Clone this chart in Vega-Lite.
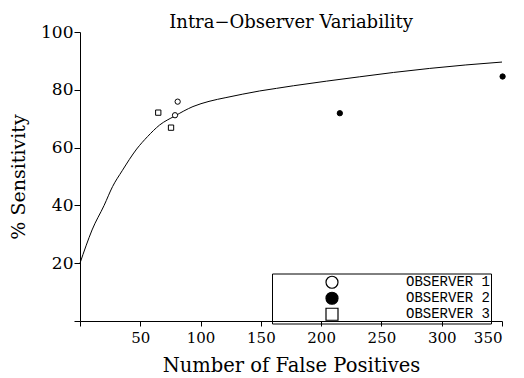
{
  "$schema": "https://vega.github.io/schema/vega-lite/v6.json",
  "width": 422,
  "height": 289,
  "autosize": "none",
  "padding": {"left": 80, "top": 32, "right": 22, "bottom": 57},
  "background": "white",
  "title": {
    "text": "Intra−Observer Variability",
    "font": "DejaVu Serif",
    "fontSize": 18,
    "fontWeight": "normal",
    "color": "black",
    "frame": "group",
    "baseline": "alphabetic",
    "offset": -23
  },
  "config": {
    "view": {"stroke": null},
    "axis": {
      "domainColor": "black",
      "tickColor": "black",
      "labelColor": "black",
      "titleColor": "black",
      "labelFont": "DejaVu Serif",
      "titleFont": "DejaVu Serif",
      "titleFontWeight": "normal",
      "grid": false,
      "tickSize": 5
    },
    "legend": {
      "symbolStrokeColor": "black",
      "symbolStrokeWidth": 1.2
    }
  },
  "layer": [
    {
      "data": {
        "values": [
          {"fp": 0, "sens": 20},
          {"fp": 5, "sens": 26},
          {"fp": 10, "sens": 31.5},
          {"fp": 20, "sens": 40},
          {"fp": 27, "sens": 46.5},
          {"fp": 35, "sens": 52},
          {"fp": 47, "sens": 59.5},
          {"fp": 56, "sens": 63.8},
          {"fp": 66, "sens": 67.8},
          {"fp": 78.5, "sens": 70.9},
          {"fp": 93.7, "sens": 74.2},
          {"fp": 107, "sens": 76},
          {"fp": 121, "sens": 77.3},
          {"fp": 135, "sens": 78.5},
          {"fp": 149, "sens": 79.6},
          {"fp": 163, "sens": 80.5},
          {"fp": 177, "sens": 81.4},
          {"fp": 204.5, "sens": 83},
          {"fp": 232, "sens": 84.5},
          {"fp": 260, "sens": 86},
          {"fp": 290, "sens": 87.4},
          {"fp": 320, "sens": 88.6},
          {"fp": 350, "sens": 89.6}
        ]
      },
      "mark": {"type": "line", "color": "black", "strokeWidth": 1, "interpolate": "monotone"},
      "encoding": {
        "x": {
          "field": "fp", "type": "quantitative",
          "scale": {"domain": [0, 350], "nice": false, "zero": false},
          "axis": {
            "values": [0, 50, 100, 150, 200, 250, 300, 350],
            "labelExpr": "datum.value == 0 ? '' : datum.label",
            "labelFontSize": 15,
            "labelPadding": 4,
            "title": "Number of False Positives",
            "titleFontSize": 19.5,
            "titlePadding": 11
          }
        },
        "y": {
          "field": "sens", "type": "quantitative",
          "scale": {"domain": [0, 100], "nice": false},
          "axis": {
            "values": [0, 20, 40, 60, 80, 100],
            "labelExpr": "datum.value == 0 ? '' : datum.label",
            "labelFontSize": 17,
            "labelPadding": 1,
            "tickSize": 6,
            "title": "% Sensitivity",
            "titleFontSize": 19,
            "titlePadding": 12
          }
        }
      }
    },
    {
      "data": {
        "values": [
          {"observer": "OBSERVER 1", "fp": 81, "sens": 75.9},
          {"observer": "OBSERVER 1", "fp": 78.8, "sens": 71.2},
          {"observer": "OBSERVER 2", "fp": 215.5, "sens": 71.9},
          {"observer": "OBSERVER 2", "fp": 350.5, "sens": 84.6},
          {"observer": "OBSERVER 3", "fp": 64.9, "sens": 72.1},
          {"observer": "OBSERVER 3", "fp": 75.5, "sens": 66.9}
        ]
      },
      "mark": {"type": "point", "filled": true, "strokeWidth": 1, "opacity": 1, "size": 28},
      "encoding": {
        "x": {"field": "fp", "type": "quantitative"},
        "y": {"field": "sens", "type": "quantitative"},
        "shape": {
          "field": "observer", "type": "nominal",
          "scale": {"domain": ["OBSERVER 1", "OBSERVER 2", "OBSERVER 3"], "range": ["circle", "circle", "square"]},
          "legend": {
            "title": null,
            "orient": "none",
            "legendX": 192,
            "legendY": 241.5,
            "padding": 1,
            "strokeColor": "black",
            "symbolSize": 144,
            "symbolStrokeWidth": 1.2,
            "symbolOffset": 52,
            "labelOffset": 151,
            "labelAlign": "right",
            "labelFont": "Liberation Mono",
            "labelFontSize": 14,
            "labelColor": "black",
            "labelLimit": 300,
            "clipHeight": 15.5,
            "rowPadding": 0
          }
        },
        "fill": {
          "field": "observer", "type": "nominal",
          "scale": {"domain": ["OBSERVER 1", "OBSERVER 2", "OBSERVER 3"], "range": ["white", "black", "white"]},
          "legend": {"title": null}
        },
        "stroke": {
          "field": "observer", "type": "nominal",
          "scale": {"domain": ["OBSERVER 1", "OBSERVER 2", "OBSERVER 3"], "range": ["black", "black", "black"]},
          "legend": {"title": null}
        }
      }
    }
  ]
}
